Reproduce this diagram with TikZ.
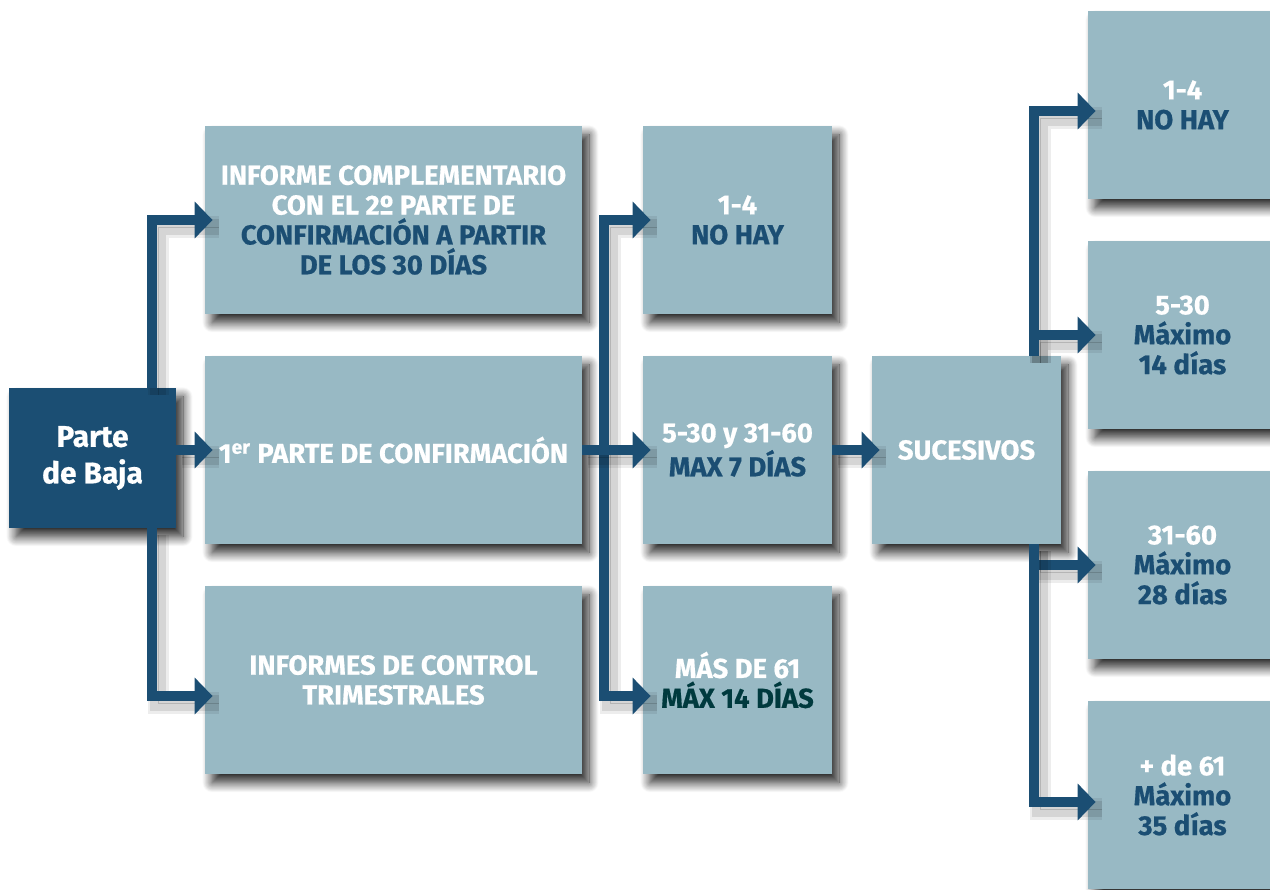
\documentclass[tikz,border=0pt]{standalone}
\usepackage{fontspec}
\setmainfont{Fira Sans}[BoldFeatures={FakeBold=0.6}]
\usetikzlibrary{arrows.meta,shadows.blur}
\definecolor{boxblue}{RGB}{152,185,196}
\definecolor{navy}{RGB}{27,78,115}
\definecolor{deepteal}{RGB}{0,58,62}
\tikzset{
  stage/.style={fill=boxblue, text=white, inner sep=0pt, align=center,
    font=\bfseries\fontsize{15.6}{17}\selectfont,
    blur shadow={shadow xshift=4pt, shadow yshift=-5pt,
      shadow blur radius=5.5pt, shadow blur steps=14, shadow opacity=85}},
  wide/.style={minimum width=7.54cm, minimum height=3.76cm},
  small/.style={minimum width=3.78cm, minimum height=3.76cm},
  link/.style={draw=navy, line width=5.7pt, line join=miter,
    -{Triangle[length=10.2pt,width=20.4pt]}, shorten >=-4.5pt,
    preaction={draw=black, opacity=0.07, line width=12pt, -,
      transform canvas={shift={(3.5pt,-4pt)}}},
    preaction={draw=black, opacity=0.1, line width=9pt, -,
      transform canvas={shift={(3.5pt,-4pt)}}},
    preaction={draw=black, opacity=0.15, -,
      transform canvas={shift={(3.5pt,-4pt)}}}}
}
\begin{document}
\begin{tikzpicture}[x=0.02cm, y=-0.02cm]
  \useasboundingbox (0,0) rectangle (1270,889);
  \coordinate (trunkA) at (152,0);
  \coordinate (trunkB) at (604,0);
  \coordinate (trunkC) at (1034,0);

  \node[stage, fill=navy, minimum width=3.34cm, minimum height=2.8cm,
    font=\bfseries\fontsize{17}{20.8}\selectfont] (baja) at (92.5,458)
    {Parte\\de Baja};

  \node[stage, wide] (inf) at (393.5,220)
    {INFORME COMPLEMENTARIO\\CON EL 2º PARTE DE\\
     \textcolor{navy}{CONFIRMACIÓN A PARTIR}\\
     \textcolor{navy}{DE LOS 30 DÍAS}};
  \node[stage, wide] (conf) at (393.5,450)
    {1\textsuperscript{er} PARTE DE CONFIRMACIÓN};
  \node[stage, wide] (ctrl) at (393.5,680)
    {INFORMES DE CONTROL\\TRIMESTRALES};

  \node[stage, small] (n1) at (737.5,220) {1-4\\\textcolor{navy}{NO HAY}};
  \node[stage, small] (n2) at (737.5,450)
    {5-30 y 31-60\\\textcolor{navy}{MAX 7 DÍAS}};
  \node[stage, small] (n3) at (737.5,680)
    {MÁS DE 61\\\textcolor{deepteal}{MÁX 14 DÍAS}};

  \node[stage, small] (suc) at (966.5,450) {SUCESIVOS};

  \node[stage, small] (r1) at (1182.5,105) {1-4\\\textcolor{navy}{NO HAY}};
  \node[stage, small] (r2) at (1182.5,335)
    {5-30\\\textcolor{navy}{Máximo}\\\textcolor{navy}{14 días}};
  \node[stage, small] (r3) at (1182.5,565)
    {31-60\\\textcolor{navy}{Máximo}\\\textcolor{navy}{28 días}};
  \node[stage, small] (r4) at (1182.5,795)
    {+ de 61\\\textcolor{navy}{Máximo}\\\textcolor{navy}{35 días}};

  \draw[link] (baja.north -| trunkA) |- (inf.west);
  \draw[link] (conf.west -| baja.east) -- (conf.west);
  \draw[link] (baja.south -| trunkA) |- ([yshift=-0.32cm]ctrl.west);

  \draw[link] (conf.east -| trunkB) |- (n1.west);
  \draw[link] (conf.east -| trunkB) |- ([yshift=-0.32cm]n3.west);
  \draw[link] (conf.east) -- (n2.west);

  \draw[link] (n2.east) -- (suc.west);
  \foreach \n/\a/\d in
    {r1/north/-0.12cm, r2/north/0cm, r3/south/0cm, r4/south/-0.14cm} {
    \draw[link] (suc.\a -| trunkC) |- ([yshift=\d]\n.west);
  }
\end{tikzpicture}
\end{document}
